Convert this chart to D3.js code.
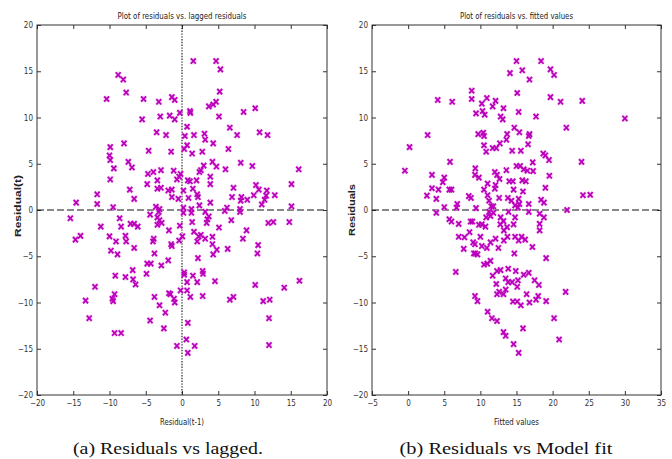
<!DOCTYPE html>
<html>
<head>
<meta charset="utf-8">
<script src="https://cdn.jsdelivr.net/npm/d3@7"></script>
<style>
  html, body { margin: 0; padding: 0; background: #fff; }
  svg { display: block; }
  .tick text { font-family: "Liberation Sans Narrow", "DejaVu Sans Condensed", "Liberation Sans", sans-serif; font-size: 8px; fill: #333; }
  .tick line { stroke: #333; }
</style>
</head>
<body>
<svg id="chart" width="672" height="459"></svg>
<script>
// Residual diagnostics: lagged residuals and residuals against fitted values.

// Panel (a): [residual(t-1), residual(t)]
const laggedPoints = [
  [1.56,16.1],[4.7,16.1],[5.3,15.2],[-8.8,14.6],[-8.1,14.1],[-7.7,12.7],[-10.4,12.0],[-5.3,12.0],
  [-3.2,11.7],[-1.4,12.2],[-1.0,11.9],[5.2,12.8],[3.7,11.2],[4.3,11.4],[4.7,11.7],[1.1,10.7],
  [1.15,10.5],[5.1,10.1],[8.5,10.6],[10.1,11.0],[-5.5,9.8],[-3.0,10.1],[-1.7,10.2],[-1.0,9.8],
  [-0.3,10.5],[0.7,9.0],[-3.5,8.4],[-2.2,8.1],[0.4,8.0],[1.65,8.1],[3.1,8.25],[3.2,7.6],
  [4.3,7.2],[6.6,8.9],[7.6,8.1],[10.7,8.4],[11.8,8.1],[-9.9,6.8],[-10.0,5.9],[-9.9,5.4],
  [-9.4,4.5],[-9.9,3.3],[-8.0,7.2],[-7.4,5.2],[-6.9,4.6],[-4.6,6.4],[-1.5,6.3],[0.3,6.6],
  [0.7,7.0],[1.4,6.1],[2.8,6.3],[6.4,6.6],[4.2,5.2],[4.75,4.7],[3.0,4.8],[6.0,4.4],
  [8.1,5.1],[9.7,4.75],[16.1,4.4],[-4.7,3.9],[-3.95,4.1],[-2.9,4.3],[-1.15,4.25],[-0.2,3.9],
  [-0.4,3.6],[-0.7,3.3],[-4.8,2.8],[-3.4,3.2],[-3.4,2.3],[-2.9,2.4],[-1.9,2.1],[-1.4,2.2],
  [-1.4,1.4],[-0.5,1.2],[0.8,3.2],[1.1,3.1],[1.5,2.3],[2.0,3.2],[2.4,4.1],[2.6,4.3],
  [3.9,3.6],[3.9,2.8],[0.2,2.1],[2.1,1.7],[2.2,1.4],[0.9,1.3],[2.4,0.5],[3.9,0.8],
  [7.1,2.4],[6.9,1.4],[8.2,1.4],[8.1,1.0],[9.0,1.1],[9.9,1.6],[10.2,2.7],[10.6,2.2],
  [11.7,2.1],[11.6,1.55],[11.4,1.1],[11.0,0.6],[12.8,1.6],[15.1,2.8],[15.1,0.4],[-14.6,0.8],
  [-11.7,1.7],[-11.7,0.65],[-9.5,0.3],[-7.2,2.2],[-6.6,1.2],[-3.6,0.35],[-3.1,0.1],[0.2,0.25],
  [1.3,0.1],[6.2,0.25],[8.0,0.1],[0.2,-0.3],[1.3,-0.3],[5.9,-0.1],[8.0,-0.2],[-3.2,-0.2],
  [-15.4,-0.9],[-8.6,-0.9],[-11.2,-1.8],[-8.4,-1.8],[-7.1,-1.5],[-6.6,-1.5],[-6.1,-1.8],[-4.4,-0.5],
  [-3.4,-0.8],[-3.1,-1.1],[-3.4,-1.6],[-2.8,-1.4],[-1.8,-2.2],[-0.3,-1.7],[1.4,-1.3],[3.2,-0.2],
  [3.7,-0.7],[3.5,-1.0],[3.4,-1.4],[5.1,-1.9],[6.8,-1.1],[11.9,-1.4],[12.6,-1.3],[14.8,-1.3],
  [-14.7,-3.2],[-14.0,-2.8],[-10.0,-2.85],[-9.1,-3.4],[-9.8,-4.4],[-8.9,-4.8],[-7.8,-2.8],[-7.7,-3.4],
  [-6.6,-4.1],[-4.0,-3.4],[-3.9,-3.1],[-3.8,-4.7],[-1.5,-3.7],[-1.4,-3.9],[-0.4,-3.3],[0.05,-2.85],
  [1.65,-2.35],[2.3,-2.85],[2.6,-2.7],[2.1,-3.4],[3.2,-3.1],[4.2,-2.9],[4.2,-3.7],[4.8,-4.3],
  [4.3,-4.8],[6.3,-4.2],[8.4,-3.1],[8.9,-2.2],[10.5,-3.8],[10.4,-4.7],[-4.8,-5.8],[-4.3,-5.8],
  [-2.85,-6.0],[-1.9,-5.45],[-4.9,-6.9],[-6.8,-6.5],[-6.75,-7.5],[-6.4,-8.05],[-7.8,-7.25],[-9.2,-7.1],
  [-12.0,-8.3],[-13.3,-9.8],[-12.8,-11.7],[-9.3,-9.1],[-9.5,-9.85],[-9.6,-9.6],[-9.3,-13.3],[-8.4,-13.3],
  [-4.4,-11.95],[-3.8,-9.4],[-3.1,-10.3],[-2.3,-11.1],[-2.5,-12.8],[-1.8,-9.0],[-1.6,-9.1],[-1.1,-9.6],
  [-1.0,-10.0],[-0.2,-8.7],[0.3,-6.75],[0.3,-7.0],[0.7,-7.8],[0.7,-8.7],[1.15,-9.4],[1.5,-7.1],
  [2.1,-7.8],[2.85,-6.6],[2.9,-6.9],[2.2,-5.2],[2.85,-9.3],[4.55,-7.7],[0.8,-12.2],[-0.7,-14.7],
  [0.6,-14.0],[1.75,-14.7],[0.8,-15.45],[6.6,-9.7],[7.1,-9.4],[10.1,-8.1],[11.2,-9.85],[12.1,-9.7],
  [14.1,-8.4],[16.2,-7.65],[12.0,-11.7],[12.0,-14.6]
];

// Panel (b): [fitted value, residual]
const fittedPoints = [
  [15.0,16.1],[18.4,16.1],[15.8,15.1],[14.1,14.8],[19.7,15.2],[20.2,14.6],[16.8,14.1],[15.1,12.65],
  [19.7,12.2],[21.1,11.7],[24.1,11.8],[4.1,11.9],[6.1,11.7],[8.8,12.9],[8.8,12.0],[10.2,11.5],
  [10.9,12.1],[11.7,11.2],[12.1,11.8],[13.2,11.0],[10.3,10.7],[9.4,10.45],[10.6,10.3],[12.8,10.1],
  [13.1,9.8],[15.3,10.6],[17.7,10.1],[21.9,8.9],[30.0,9.9],[2.7,8.1],[0.2,6.8],[9.7,8.2],
  [10.4,8.35],[10.5,8.0],[13.7,8.2],[14.7,8.9],[15.4,8.4],[16.8,8.2],[16.7,8.0],[13.6,7.6],
  [12.7,7.2],[10.5,7.0],[16.6,7.1],[10.8,6.3],[11.7,6.7],[12.2,6.7],[14.4,6.4],[15.6,6.4],
  [18.7,6.1],[19.0,5.9],[19.5,5.4],[24.0,5.2],[5.8,5.2],[-0.45,4.25],[3.3,3.8],[5.0,3.5],
  [4.8,3.0],[3.3,2.35],[4.2,2.2],[5.7,2.2],[6.0,2.2],[2.6,1.55],[3.9,1.2],[5.0,0.3],
  [6.8,0.65],[8.4,1.5],[8.7,1.3],[9.3,4.5],[9.25,3.8],[9.8,3.5],[9.4,0.2],[10.5,2.2],
  [11.0,2.85],[11.0,1.6],[11.2,1.0],[11.5,0.4],[12.0,4.1],[12.3,3.8],[12.65,3.35],[12.1,2.7],
  [12.0,2.3],[12.6,1.3],[11.8,0.4],[13.6,4.3],[14.0,3.1],[14.5,3.1],[14.6,2.2],[13.8,1.3],
  [14.3,1.0],[14.8,0.5],[15.0,4.75],[15.5,4.75],[16.0,4.4],[16.5,4.25],[17.25,5.15],[17.3,4.2],
  [15.8,3.2],[16.3,3.1],[15.9,2.0],[15.3,1.2],[15.4,0.65],[16.7,0.65],[19.0,2.4],[18.4,1.1],
  [18.8,0.8],[19.55,3.7],[24.2,1.6],[25.2,1.65],[22.0,0.0],[11.2,-0.2],[13.9,-0.2],
  [3.9,-0.3],[6.7,0.25],[5.7,-1.0],[6.0,-1.25],[7.0,-1.5],[8.65,-1.25],[8.9,-1.25],[9.8,-1.6],
  [10.2,-1.55],[10.7,-1.8],[10.8,-0.8],[11.4,-0.65],[11.8,-0.3],[12.8,-0.8],[12.75,-1.55],[13.2,-1.2],
  [13.7,-1.85],[13.25,-2.2],[14.8,-0.8],[14.6,-1.55],[15.2,0.25],[16.7,-0.2],[18.2,-0.4],[18.8,-0.8],
  [18.2,-1.5],[18.2,-2.2],[7.0,-2.9],[7.8,-2.95],[8.5,-2.4],[9.0,-3.5],[7.7,-4.2],[9.3,-4.7],
  [9.6,-4.8],[9.25,-3.7],[10.0,-2.9],[10.2,-3.9],[10.9,-4.1],[11.4,-3.5],[12.1,-3.1],[12.5,-4.1],
  [13.25,-3.3],[13.75,-2.9],[14.8,-2.9],[15.3,-3.3],[15.7,-2.9],[16.2,-3.2],[17.2,-4.0],[14.7,-4.7],
  [19.1,-5.2],[6.6,-6.7],[10.5,-5.9],[10.95,-5.8],[11.4,-5.5],[11.7,-7.1],[12.3,-6.6],[12.8,-6.5],
  [13.85,-6.35],[13.5,-7.4],[13.85,-7.8],[12.2,-8.0],[14.9,-6.6],[15.2,-7.6],[15.1,-8.3],[16.0,-7.0],
  [16.7,-6.8],[17.5,-7.6],[18.1,-8.1],[12.3,-9.1],[12.6,-8.85],[13.2,-9.1],[13.5,-8.6],[14.4,-7.8],
  [9.25,-9.3],[9.6,-9.85],[14.5,-9.9],[15.1,-9.9],[15.6,-10.3],[16.4,-9.1],[16.8,-10.0],[17.7,-9.7],
  [18.0,-9.3],[19.1,-9.85],[21.8,-8.85],[11.0,-11.0],[11.6,-11.7],[12.3,-12.0],[15.9,-12.8],[20.2,-11.7],
  [13.2,-13.2],[13.5,-13.6],[14.6,-14.5],[15.3,-15.45],[20.9,-14.0],[9.1,-4.7]
];

const yTicks = [-20, -15, -10, -5, 0, 5, 10, 15, 20];
const laggedXTicks = [-20, -15, -10, -5, 0, 5, 10, 15, 20];
const fittedXTicks = [-5, 0, 5, 10, 15, 20, 25, 30, 35];

const svg = d3.select("#chart");
const markerColor = "#bb00bb";
const markerHalo = "#e9a6e9";
const crossPath = "M-2.5,-2.7L2.5,2.7M-2.5,2.7L2.5,-2.7";

function drawPanel(opts) {
  const x = d3.scaleLinear().domain(opts.xDomain).range([opts.left, opts.right]);
  const y = d3.scaleLinear().domain([-20, 20]).range([395, 25]);
  const g = svg.append("g");

  // inward ticks on all four sides
  g.append("g").attr("transform", `translate(0,${y(-20)})`)
    .call(d3.axisBottom(x).tickValues(opts.xTicks).tickSizeInner(-4).tickSizeOuter(0).tickPadding(5))
    .call(a => a.select(".domain").remove());
  g.append("g").attr("transform", `translate(0,${y(20)})`)
    .call(d3.axisTop(x).tickValues(opts.xTicks).tickSizeInner(-4).tickSizeOuter(0).tickFormat(""))
    .call(a => a.select(".domain").remove());
  g.append("g").attr("transform", `translate(${opts.left},0)`)
    .call(d3.axisLeft(y).tickValues(yTicks).tickSizeInner(-4).tickSizeOuter(0).tickPadding(4))
    .call(a => a.select(".domain").remove());
  g.append("g").attr("transform", `translate(${opts.right},0)`)
    .call(d3.axisRight(y).tickValues(yTicks).tickSizeInner(-4).tickSizeOuter(0).tickFormat(""))
    .call(a => a.select(".domain").remove());

  // frame
  g.append("rect")
    .attr("x", opts.left).attr("y", y(20))
    .attr("width", opts.right - opts.left).attr("height", y(-20) - y(20))
    .attr("fill", "none").attr("stroke", "#333").attr("stroke-width", 1);

  // zero reference lines
  g.append("line")
    .attr("x1", opts.left).attr("x2", opts.right)
    .attr("y1", y(0)).attr("y2", y(0))
    .attr("stroke", "#111").attr("stroke-width", 1.1).attr("stroke-dasharray", "7,3");
  if (opts.vZero) {
    g.append("line")
      .attr("x1", x(0)).attr("x2", x(0))
      .attr("y1", y(20)).attr("y2", y(-20))
      .attr("stroke", "#111").attr("stroke-width", 1.1).attr("stroke-dasharray", "1.4,1.4");
  }

  // markers
  const pts = g.append("g");
  pts.selectAll("path.halo").data(opts.points).join("path")
    .attr("class", "halo")
    .attr("d", crossPath)
    .attr("transform", d => `translate(${x(d[0])},${y(d[1])})`)
    .attr("fill", "none").attr("stroke", markerHalo).attr("stroke-width", 3.4).attr("opacity", 0.55);
  pts.selectAll("path.mark").data(opts.points).join("path")
    .attr("class", "mark")
    .attr("d", crossPath)
    .attr("transform", d => `translate(${x(d[0])},${y(d[1])})`)
    .attr("fill", "none").attr("stroke", markerColor).attr("stroke-width", 1.75);

  const cx = (opts.left + opts.right) / 2;
  const narrow = '"Liberation Sans Narrow", "DejaVu Sans Condensed", "Liberation Sans", sans-serif';
  g.append("text").text(opts.title)
    .attr("x", cx).attr("y", 19).attr("text-anchor", "middle")
    .attr("font-family", narrow).attr("font-size", 9).attr("fill", "#222")
    .attr("textLength", opts.titleLen).attr("lengthAdjust", "spacingAndGlyphs");
  g.append("text").text(opts.xLabel)
    .attr("x", cx).attr("y", 425).attr("text-anchor", "middle")
    .attr("font-family", narrow).attr("font-size", 9).attr("fill", "#222")
    .attr("textLength", opts.xLabelLen).attr("lengthAdjust", "spacingAndGlyphs");
  g.append("text").text(opts.yLabel)
    .attr("transform", `translate(${opts.yLabelX},${opts.yLabelY}) rotate(-90)`)
    .attr("text-anchor", "middle")
    .attr("font-family", '"Liberation Sans", Arial, sans-serif').attr("font-weight", "bold")
    .attr("font-size", 9).attr("fill", "#222")
    .attr("textLength", opts.yLabelLen).attr("lengthAdjust", "spacingAndGlyphs");

  svg.append("text").text(opts.caption)
    .attr("x", opts.captionX).attr("y", 454).attr("text-anchor", "middle")
    .attr("font-family", '"Liberation Serif", "Times New Roman", serif')
    .attr("font-size", 16).attr("fill", "#111")
    .attr("textLength", opts.captionLen).attr("lengthAdjust", "spacingAndGlyphs");
}

drawPanel({
  left: 37, right: 327, xDomain: [-20, 20], xTicks: laggedXTicks,
  points: laggedPoints, vZero: true,
  title: "Plot of residuals vs. lagged residuals", titleLen: 129,
  xLabel: "Residual(t-1)", xLabelLen: 44,
  yLabel: "Residual(t)", yLabelX: 21, yLabelY: 206, yLabelLen: 62,
  caption: "(a) Residuals vs lagged.", captionX: 168, captionLen: 190
});

drawPanel({
  left: 372, right: 661, xDomain: [-5, 35], xTicks: fittedXTicks,
  points: fittedPoints, vZero: false,
  title: "Plot of residuals vs. fitted values", titleLen: 113,
  xLabel: "Fitted values", xLabelLen: 45,
  yLabel: "Residuals", yLabelX: 355, yLabelY: 210, yLabelLen: 52,
  caption: "(b) Residuals vs Model fit", captionX: 506, captionLen: 213
});
</script>
</body>
</html>
